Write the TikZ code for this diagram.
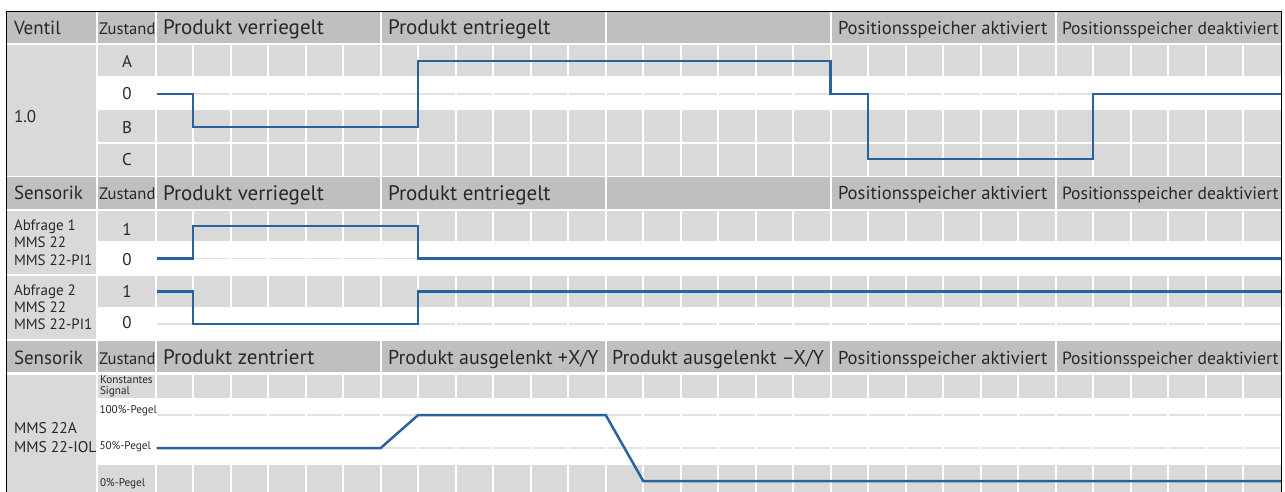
\documentclass[tikz,border=0pt]{standalone}
\usepackage{fontspec}
\setmainfont{PT Sans}
\definecolor{hdr}{RGB}{191,191,191}
\definecolor{cellg}{RGB}{217,217,217}
\definecolor{faint}{RGB}{226,226,226}
\definecolor{sig}{RGB}{42,98,158}
\definecolor{txt}{RGB}{40,40,40}
\begin{document}
\begin{tikzpicture}[x=1pt,y=-1pt,
  tx/.style={inner sep=0pt, outer sep=0pt, text=txt},
  hd/.style={tx, anchor=base west, font=\fontsize{21}{25}\selectfont},
  hx/.style={tx, anchor=base west, font=\fontsize{20}{24}\selectfont},
  hs/.style={tx, anchor=base west, font=\fontsize{18.6}{22}\selectfont},
  hq/.style={tx, anchor=base west, font=\fontsize{17.6}{21}\selectfont},
  lab/.style={tx, anchor=base west, font=\fontsize{19}{22}\selectfont},
  zs/.style={tx, anchor=base west, font=\fontsize{16.6}{19}\selectfont},
  lv/.style={tx, anchor=base, font=\fontsize{17}{20}\selectfont},
  nm/.style={tx, anchor=base west, font=\fontsize{15}{18}\selectfont},
  sm/.style={tx, anchor=base west, font=\fontsize{11.2}{13}\selectfont},
  sg/.style={draw=sig, line width=2.5pt},
  fl/.style={draw=faint, line width=1.2pt},
  wl/.style={draw=white, line width=2pt}]
\useasboundingbox (0,0) rectangle (1285,492);
% label column cells
\fill[cellg] (7,45.5) rectangle (96.2,175.5);
\fill[cellg] (7,210.5) rectangle (96.2,273.5);
\fill[cellg] (7,275.5) rectangle (96.2,338.5);
\fill[cellg] (7,374.5) rectangle (96.2,492);
% grey rows (Zustand + timeline)
\foreach \a/\b in {45.5/76.5, 110.5/142.3, 144/175.5, 210.5/241, 275.5/307, 374.5/398.3, 465/492}
  \fill[cellg] (98.2,\a) rectangle (1281,\b);
% faint guide lines in white rows
\foreach \y in {94,258.7,324,415,448}
  \draw[fl] (155.7,\y) -- (1281,\y);
% white column separators
\draw[wl] (97.2,12) -- (97.2,492);
\foreach \i in {0,...,29}
  \draw[wl] ({155.7+37.5*\i},12) -- ({155.7+37.5*\i},492);
% header rows
\foreach \t in {12,177.3,340.7}{
  \fill[hdr] (7,\t) rectangle (1281,{\t+31.2});
  \foreach \x in {97.2,155.7,380.7,605.7,830.7,1055.7}
    \draw[wl] (\x,\t) -- (\x,{\t+31.2});
}
% signals
\draw[sg] (156.7,94) -- (193.2,94) -- (193.2,127) -- (418.2,127) -- (418.2,61) -- (830.7,61) -- (830.7,94) -- (868.2,94) -- (868.2,159) -- (1093.2,159) -- (1093.2,94) -- (1281,94);
\draw[sg] (156.7,258.7) -- (193.2,258.7) -- (193.2,226) -- (418.2,226) -- (418.2,258.7) -- (1281,258.7);
\draw[sg] (156.7,291.5) -- (193.2,291.5) -- (193.2,324) -- (418.2,324) -- (418.2,291.5) -- (1281,291.5);
\draw[sg] (156.7,448) -- (380.7,448) -- (418.2,415) -- (605.7,415) -- (643.2,481) -- (1281,481);
% header texts row 1
\node[lab] (h1a) at (14,34.5) {Ventil};
\node[zs] (h1b) at (99,34.5) {Zustand};
\node[hd] (h1c) at (163,35) {Produkt verriegelt};
\node[hd] (h1d) at (388,35) {Produkt entriegelt};
\node[hs] (h1e) at (838,34.5) {Positionsspeicher aktiviert};
\node[hq] (h1f) at (1062,34.5) {Positionsspeicher deaktiviert};
% header texts row 2
\node[lab] (h2a) at (14,199.5) {Sensorik};
\node[zs] (h2b) at (99,199.5) {Zustand};
\node[hd] (h2c) at (163,200) {Produkt verriegelt};
\node[hd] (h2d) at (388,200) {Produkt entriegelt};
\node[hs] (h2e) at (838,199.5) {Positionsspeicher aktiviert};
\node[hq] (h2f) at (1062,199.5) {Positionsspeicher deaktiviert};
% header texts row 3
\node[lab] (h3a) at (14,364) {Sensorik};
\node[zs] (h3b) at (99,364) {Zustand};
\node[hd] (h3c) at (163,364.5) {Produkt zentriert};
\node[hx] (h3d) at (388,364.5) {Produkt ausgelenkt +X/Y};
\node[hx] (h3e) at (612,364.5) {Produkt ausgelenkt –X/Y};
\node[hs] (h3f) at (838,364) {Positionsspeicher aktiviert};
\node[hq] (h3g) at (1062,364) {Positionsspeicher deaktiviert};
% section 1 labels
\node[tx, anchor=base west, font=\fontsize{17}{20}\selectfont] (v10) at (14,122.7) {1.0};
\node[lv] (zA) at (127,67.7) {A};
\node[lv] (z0) at (127,100) {0};
\node[lv] (zB) at (127,133.3) {B};
\node[lv] (zC) at (127,165) {C};
% section 2 labels
\node[nm] (ab1a) at (14,230) {Abfrage 1};
\node[nm] (ab1b) at (14,247.3) {MMS 22};
\node[nm] (ab1c) at (14,265) {MMS 22-PI1};
\node[nm] (ab2a) at (14,295.7) {Abfrage 2};
\node[nm] (ab2b) at (14,312.7) {MMS 22};
\node[nm] (ab2c) at (14,329.3) {MMS 22-PI1};
\node[lv] (s11) at (127,235.7) {1};
\node[lv] (s10) at (127,265) {0};
\node[lv] (s21) at (127,297.7) {1};
\node[lv] (s20) at (127,328.3) {0};
% section 3 labels
\node[nm, font=\fontsize{15.5}{19}\selectfont] (m1) at (14,433.3) {MMS 22A};
\node[nm, font=\fontsize{15.5}{19}\selectfont] (m2) at (14,452.7) {MMS 22-IOL};
\node[sm] (k1) at (100,383.3) {Konstantes};
\node[sm] (k2) at (100,394.5) {Signal};
\node[sm] (p100) at (99.5,413.3) {100\%-Pegel};
\node[sm] (p50) at (99.5,449) {50\%-Pegel};
\node[sm] (p0) at (100,486.7) {0\%-Pegel};
% frame
\draw[black, line width=1.6pt] (6.5,492) -- (6.5,11.7) -- (1281.3,11.7) -- (1281.3,492);
\end{tikzpicture}
\end{document}
